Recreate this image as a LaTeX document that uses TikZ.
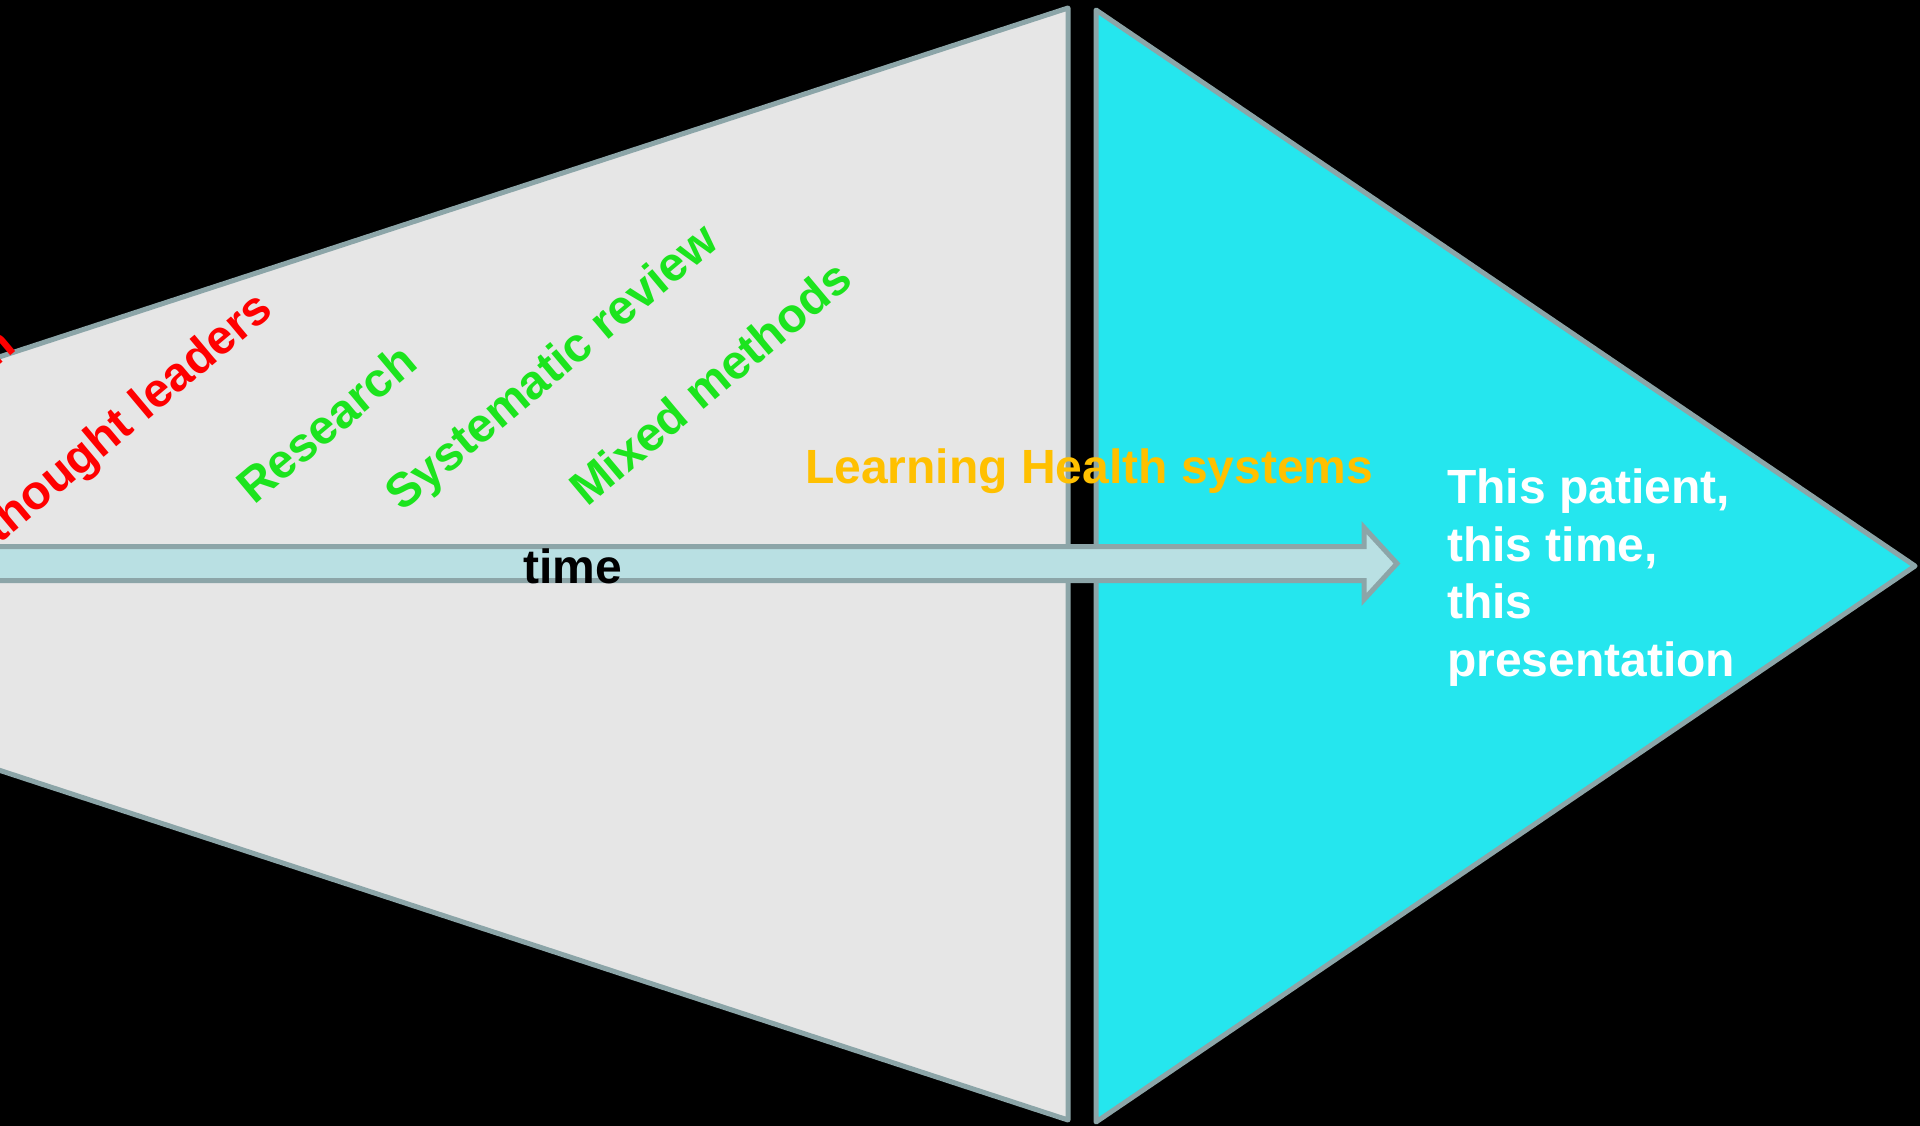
\documentclass[tikz,border=0pt]{standalone}
\usepackage{fontspec}
\setmainfont{Liberation Sans}
\usepackage{tikz}

\definecolor{evidgray}{HTML}{E6E6E6}
\definecolor{edgegray}{HTML}{8CA5A8}
\definecolor{patientcyan}{HTML}{25E6EE}
\definecolor{arrowblue}{HTML}{B9E0E3}
\definecolor{opinionred}{HTML}{FF0000}
\definecolor{studygreen}{HTML}{1CE41E}
\definecolor{lhsorange}{HTML}{FFC000}

\begin{document}
\begin{tikzpicture}[
                          x=1pt, y=-1pt,
                          panel/.style={draw=edgegray, line width=5pt, line join=round},
                          slantlabel/.style={rotate=40, anchor=base west, inner sep=0pt, font=\bfseries\fontsize{48}{57.5}\selectfont},
                          flatlabel/.style={anchor=base west, inner sep=0pt, font=\bfseries\fontsize{48}{57.5}\selectfont},
                      ]
                      % Frame
                      \fill[black] (0,0) rectangle (1920,1126);
                      \useasboundingbox (0,0) rectangle (1920,1126);
                      \clip (0,0) rectangle (1920,1126);

                      % Corners
                      \coordinate (evid_tl) at (-200,422);
                      \coordinate (evid_tr) at (1068,8);
                      \coordinate (evid_br) at (1068,1120);
                      \coordinate (evid_bl) at (-200,705);
                      \coordinate (pat_top) at (1096,10);
                      \coordinate (pat_tip) at (1915,566);
                      \coordinate (pat_bot) at (1096,1122);

                      % Shapes
                      \draw[panel, fill=evidgray] (evid_tl) -- (evid_tr) -- (evid_br) -- (evid_bl) -- cycle;
                      \draw[panel, fill=patientcyan] (pat_top) -- (pat_tip) -- (pat_bot) -- cycle;
                      \draw[draw=edgegray, line width=5pt, fill=arrowblue]
                          (-20,546.5) -- (1364,546.5) -- (1364,527.5) -- (1397,563.5)
                          -- (1364,599.5) -- (1364,580.5) -- (-20,580.5) -- cycle;

                      % Nodes
                      \node[slantlabel, text=opinionred, anchor=base east] (opinion) at (18,350) {Expert opinion};
                      \node[slantlabel, text=opinionred] (leaders) at (-1,545) {thought leaders};
                      \node[slantlabel, text=studygreen] (research) at (254,506) {Research};
                      \node[slantlabel, text=studygreen] (review) at (402,513) {Systematic review};
                      \node[slantlabel, text=studygreen] (mixed) at (587,508) {Mixed methods};
                      \node[flatlabel, text=lhsorange] (lhs) at (805,483) {Learning Health systems};
                      \node[flatlabel] (time) at (523,583) {time};
                      \node[flatlabel, text=white, align=left, anchor=north west] (patient) at (1447,469) {This patient,\\this time,\\this\\presentation};
                  \end{tikzpicture}
\end{document}
